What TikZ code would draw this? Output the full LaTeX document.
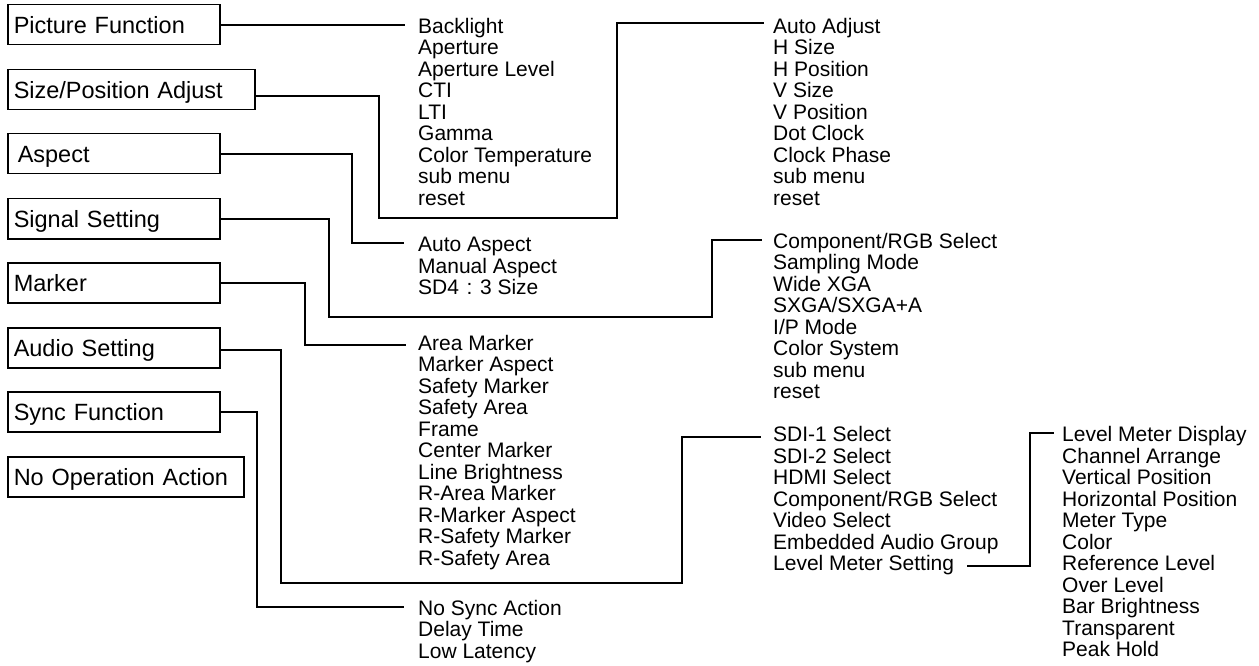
\documentclass[tikz,border=0pt]{standalone}
\usepackage{fontspec}
\setmainfont{Liberation Sans}
\begin{document}
\begin{tikzpicture}[x=1pt,y=-1pt,
  mbox/.style={draw, line width=1.5pt, anchor=north west, minimum height=40pt,
    inner xsep=6pt, inner ysep=0pt, text height=20pt, text depth=2pt,
    text width=#1, align=left, font=\fontsize{23.5}{28}\selectfont},
  item/.style={inner sep=0pt, anchor=base west, font=\fontsize{21}{21.5}\selectfont},
  conn/.style={line width=1.8pt, line cap=rect}
]
\useasboundingbox (0,0) rectangle (1259,666);

% menu boxes
\node[mbox=200pt] (pf) at (7,4)   {Picture Function};
\node[mbox=235pt] (sp) at (7,69)  {Size/Position Adjust};
\node[mbox=200pt] (as) at (7,133) {\hspace{4pt}Aspect};
\node[mbox=200pt] (ss) at (7,198) {Signal Setting};
\node[mbox=200pt] (mk) at (7,262) {Marker};
\node[mbox=200pt] (au) at (7,327) {Audio Setting};
\node[mbox=200pt] (sy) at (7,391) {Sync Function};
\node[mbox=224pt] (no) at (7,456) {No Operation Action};

% item columns
\foreach \t [count=\i from 0] in {Backlight,Aperture,Aperture Level,CTI,LTI,Gamma,Color Temperature,sub menu,reset}
  \node[item] (pic\i) at (418,33.3+21.5*\i) {\t};
\foreach \t [count=\i from 0] in {Auto Adjust,H Size,H Position,V Size,V Position,Dot Clock,Clock Phase,sub menu,reset}
  \node[item] (siz\i) at (773,33.3+21.5*\i) {\t};
\foreach \t [count=\i from 0] in {Auto Aspect,Manual Aspect,{SD4\makebox[21pt]{:}3 Size}}
  \node[item] (asp\i) at (418,251.7+21.5*\i) {\t};
\foreach \t [count=\i from 0] in {Component/RGB Select,Sampling Mode,Wide XGA,SXGA/SXGA+A,I/P Mode,Color System,sub menu,reset}
  \node[item] (sig\i) at (773,248+21.5*\i) {\t};
\foreach \t [count=\i from 0] in {Area Marker,Marker Aspect,Safety Marker,Safety Area,Frame,Center Marker,Line Brightness,R-Area Marker,R-Marker Aspect,R-Safety Marker,R-Safety Area}
  \node[item] (mrk\i) at (418,350+21.5*\i) {\t};
\foreach \t [count=\i from 0] in {No Sync Action,Delay Time,Low Latency}
  \node[item] (syn\i) at (418,615+21.5*\i) {\t};
\foreach \t [count=\i from 0] in {SDI-1 Select,SDI-2 Select,HDMI Select,Component/RGB Select,Video Select,Embedded Audio Group,Level Meter Setting}
  \node[item] (aud\i) at (773,441.7+21.5*\i) {\t};
\foreach \t [count=\i from 0] in {Level Meter Display,Channel Arrange,Vertical Position,Horizontal Position,Meter Type,Color,Reference Level,Over Level,Bar Brightness,Transparent,Peak Hold}
  \node[item] (lvl\i) at (1062,441.7+21.5*\i) {\t};

% connector end points
\coordinate (pfe) at (404,24);
\coordinate (spe) at (763,23);
\coordinate (ase) at (403,243);
\coordinate (sse) at (761,240);
\coordinate (mke) at (405,345);
\coordinate (aue) at (760,437);
\coordinate (sye) at (403,607);
\coordinate (lve) at (1053,433);

% connectors
\draw[conn] (pf.east) -- (pf.east -| pfe);
\draw[conn] ([yshift=-6.5pt]sp.east) -| (379,218) -| (617,23) -- (spe);
\draw[conn] (as.east) -| (352,243) -- (ase);
\draw[conn] (ss.east) -| (329,317) -| (712,240) -- (sse);
\draw[conn] (mk.east) -| (305,345) -- (mke);
\draw[conn] ([yshift=-2.5pt]au.east) -| (281,583) -| (682,437) -- (aue);
\draw[conn] (sy.east) -| (257,607) -- (sye);
\draw[conn] ([shift={(14pt,5pt)}]aud6.base east) -| (1030,433) -- (lve);
\end{tikzpicture}
\end{document}
